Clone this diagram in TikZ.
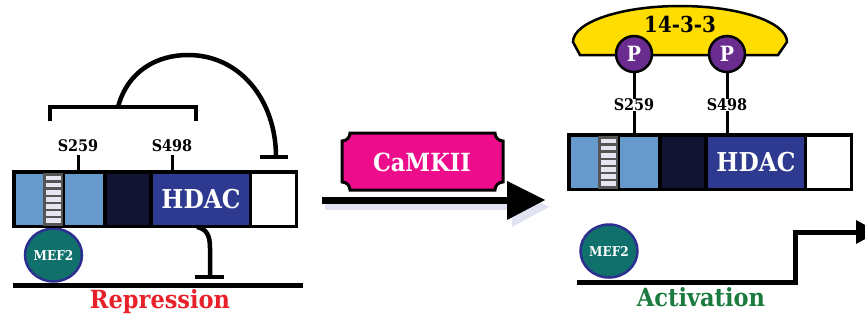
\documentclass[tikz,border=0pt]{standalone}
\usepackage{fontspec}
\setmainfont{DejaVu Serif}[FakeStretch=0.9]
\usetikzlibrary{shapes.geometric}
\definecolor{lblue}{HTML}{6699CC}
\definecolor{navy}{HTML}{111433}
\definecolor{hdacblue}{HTML}{2E3A8F}
\definecolor{mefteal}{HTML}{10706C}
\definecolor{mefborder}{HTML}{2B2F8F}
\definecolor{camkpink}{HTML}{EC0C8C}
\definecolor{ywhaz}{HTML}{FFDD00}
\definecolor{ppurple}{HTML}{6A2C8F}
\definecolor{represred}{HTML}{E8202A}
\definecolor{actgreen}{HTML}{1B7A3E}
\definecolor{stripegray}{HTML}{555555}
\definecolor{stripewhite}{HTML}{E6E6F0}
\definecolor{shadowc}{HTML}{B4BAE0}
\newcommand{\hdacprot}[1]{%
  \fill[black] (0,0) rectangle (286,58);
  \fill[lblue] (3.5,4) rectangle (31,54.5);
  \fill[stripegray] (31,3) rectangle (51,55.5);
  \foreach \k in {0,...,6} \fill[stripewhite] (34,{5.5+\k*7.1}) rectangle (49,{10.3+\k*7.1});
  \fill[lblue] (53,4) rectangle (91,54.5);
  \fill[navy] (95,4) rectangle (137,54.5);
  \node[hdacseg] (#1hdac) at (189,29.25) {HDAC};
  \fill[white] (240,4) rectangle (282.5,54.5);
}
\begin{document}
\begin{tikzpicture}[x=1pt,y=-1pt,
  hdacseg/.style={rectangle,fill=hdacblue,minimum width=96pt,minimum height=50.5pt,inner sep=0pt,text=white,font=\bfseries\fontsize{26}{26}\selectfont},
  slabel/.style={inner sep=0pt,font=\bfseries\fontsize{16}{16}\selectfont},
  mef/.style={ellipse,fill=mefteal,draw=mefborder,line width=2.5pt,minimum width=57pt,minimum height=53pt,inner sep=0pt,text=white,font=\bfseries\fontsize{13.5}{13.5}\selectfont},
  pcirc/.style={circle,fill=ppurple,draw=black,line width=2.5pt,minimum size=36pt,inner sep=0pt,text=white,font=\bfseries\fontsize{21}{21}\selectfont},
  inhib/.style={line width=4.5pt},
  tick/.style={line width=3pt},
  bigtext/.style={inner sep=0pt,font=\bfseries\fontsize{25}{25}\selectfont}]
\useasboundingbox (0,0) rectangle (865,324);
\fill[white] (0,0) rectangle (865,324);

% ---------------- left: repression ----------------
\node[mef] (mefL) at (53.5,255) {MEF2};
\begin{scope}[shift={(12,170)}]
  \hdacprot{L}
\end{scope}
\node[slabel] (s259L) at (78,146) {S259};
\node[slabel] (s498L) at (172,146) {S498};
\draw[tick] (78,155) -- (78,170);
\draw[tick] (172,155) -- (172,170);
% bracket
\coordinate (brL) at (50,121);
\coordinate (brR) at (196,121);
\coordinate (brM) at (118,107);
\draw[inhib] (brL) -- (50,107) -- (196,107) -- (brR);
\coordinate (tb1) at (276,157);
\draw[inhib] (brM) .. controls (128,70) and (158,55) .. (188,55) .. controls (240,55) and (276,100) .. (tb1);
\draw[inhib] (260,157) -- (288,157);
% lower inhibition
\coordinate (hdacbot) at (197,227);
\coordinate (tb2) at (210,277);
\draw[inhib] (hdacbot) .. controls (207,229) and (210,236) .. (210,248) -- (tb2);
\draw[inhib] (195,277) -- (224,277);
% baseline
\draw[line width=5pt] (13,285) -- (303,285);
\node[bigtext,text=represred] (rep) at (160,302) {Repression};

% ---------------- middle: CaMKII arrow ----------------
\fill[shadowc,opacity=0.4] (325,204) rectangle (512,210);
\fill[shadowc,opacity=0.4] (512,187) -- (549,207) -- (512,227) -- cycle;
\coordinate (arrS) at (322,200);
\coordinate (arrE) at (545,200);
\draw[line width=7pt] (arrS) -- (509,200);
\fill[black] (507,181) -- (arrE) -- (507,220) -- cycle;
\filldraw[fill=camkpink,draw=black,line width=3pt]
  (350,133) -- (495,133) arc[start angle=180,end angle=90,radius=8]
  -- (503,182) arc[start angle=270,end angle=180,radius=8]
  -- (350,190) arc[start angle=0,end angle=-90,radius=8]
  -- (342,141) arc[start angle=90,end angle=0,radius=8] -- cycle;
\node[inner sep=0pt,text=white,font=\bfseries\fontsize{25}{25}\selectfont] (camk) at (422,162) {CaMKII};

% ---------------- right: activation ----------------
\filldraw[fill=ywhaz,draw=black,line width=2.5pt]
  (580,55) -- (778,55) -- (787,42) arc[start angle=0,end angle=-180,x radius=107,y radius=36] -- cycle;
\node[inner sep=0pt,font=\bfseries\fontsize{22}{22}\selectfont] (ywha) at (680,24) {14-3-3};
\node[slabel] (s259R) at (634,105) {S259};
\node[slabel] (s498R) at (727,105) {S498};
\begin{scope}[shift={(567,133)}]
  \hdacprot{R}
\end{scope}
\draw[tick] (634,72) -- (s259R.north);
\draw[tick] (727,72) -- (s498R.north);
\draw[tick] (s259R.south) -- (634,133);
\draw[tick] (s498R.south) -- (727,133);
\node[pcirc] (p1) at (634,54) {P};
\node[pcirc] (p2) at (727,54) {P};
\node[mef] (mefR) at (609,251) {MEF2};
\coordinate (lineS) at (577,282);
\coordinate (lineE) at (857,232);
\draw[line width=5pt] (lineS) -- (795,282) -- (795,232) -- (lineE);
\fill[black] (856,220) -- (878,232) -- (856,244) -- cycle;
\node[bigtext,text=actgreen] (act) at (701,297) {Activation};
\end{tikzpicture}
\end{document}
